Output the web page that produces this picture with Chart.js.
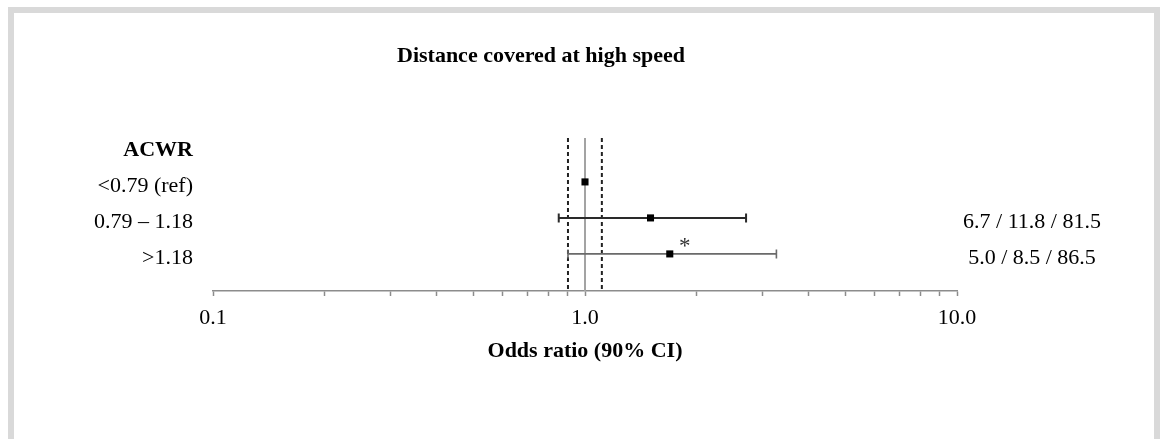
<!DOCTYPE html>
<html>
<head>
<meta charset="utf-8">
<title>Distance covered at high speed</title>
<script src="https://cdn.jsdelivr.net/npm/chart.js@4.4.1/dist/chart.umd.min.js"></script>
<style>
  html, body { margin: 0; padding: 0; background: #fff; overflow: hidden; }
  #frame {
    position: absolute; left: 8px; top: 7px;
    width: 1140px; height: 432px;
    border: 6px solid #d9d9d9; border-bottom: none;
  }
  #plot { position: absolute; left: 0; top: 0; }
</style>
</head>
<body>
<div id="frame"></div>
<canvas id="plot" width="1160" height="439"></canvas>
<script>
// ACWR bands and their odds ratios (90% CI) for high-speed distance
const chartTitle = 'Distance covered at high speed';
const headerLabel = 'ACWR';
const rowLabels = ['<0.79 (ref)', '0.79 – 1.18', '>1.18'];
const oddsRatios = [1.0, 1.50, 1.69];
const ciLower = [null, 0.85, 0.90];
const ciUpper = [null, 2.71, 3.27];
// chances harmful / trivial / beneficial (%)
const chances = ['', '6.7 / 11.8 / 81.5', '5.0 / 8.5 / 86.5'];
const significance = ['', '', '*'];

// reference lines: no effect and smallest worthwhile change
const nullValue = 1.0;
const trivialBounds = [0.9, 1.11];

// log axis
const axisTitle = 'Odds ratio (90% CI)';
const tickValues = [0.1, 0.2, 0.3, 0.4, 0.5, 0.6, 0.7, 0.8, 0.9,
                    1, 2, 3, 4, 5, 6, 7, 8, 9, 10];
const labeledTicks = [0.1, 1, 10];
const labeledTickText = ['0.1', '1.0', '10.0'];

// row positions on the hidden vertical scale (header row = 0)
const Y_TOP = -0.22, Y_BOTTOM = 4.03;
const rowIndex = rowLabels.map((_, i) => i + 1);

const SERIF = '"Liberation Serif", "Times New Roman", Times, serif';
const TEXT = '#000';

const forestPlugin = {
  id: 'forest',
  beforeDatasetDraw(chart, args) {
    if (args.index !== 0) return;
    const { ctx, scales: { x, y } } = chart;
    const styles = chart.options.plugins.forest.bars;
    ctx.save();
    ciLower.forEach((lo, i) => {
      if (lo == null) return;
      const s = styles[i] || styles[styles.length - 1];
      const yp = y.getPixelForValue(rowIndex[i]);
      const x0 = x.getPixelForValue(lo);
      const x1 = x.getPixelForValue(ciUpper[i]);
      ctx.strokeStyle = s.color;
      ctx.lineWidth = s.width;
      ctx.beginPath();
      ctx.moveTo(x0, yp); ctx.lineTo(x1, yp);
      ctx.moveTo(x0, yp - 4.5); ctx.lineTo(x0, yp + 4.5);
      ctx.moveTo(x1, yp - 4.5); ctx.lineTo(x1, yp + 4.5);
      ctx.stroke();
    });
    ctx.restore();
  },
  afterDraw(chart) {
    const { ctx, scales: { x, y } } = chart;
    ctx.save();
    ctx.fillStyle = TEXT;
    ctx.textBaseline = 'alphabetic';

    // chart heading
    ctx.font = 'bold 22px ' + SERIF;
    ctx.textAlign = 'center';
    ctx.fillText(chartTitle, 541, 62);

    // left column: band names
    ctx.textAlign = 'right';
    ctx.fillText(headerLabel, 193, y.getPixelForValue(0) + 10.5);
    ctx.font = '22px ' + SERIF;
    rowLabels.forEach((t, i) => {
      ctx.fillText(t, 193, y.getPixelForValue(rowIndex[i]) + 10.5);
    });

    // right column: chances
    ctx.textAlign = 'center';
    chances.forEach((t, i) => {
      if (t) ctx.fillText(t, 1032, y.getPixelForValue(rowIndex[i]) + 10.5);
    });

    // significance flags beside the estimate
    ctx.fillStyle = '#333';
    ctx.font = '23px ' + SERIF;
    significance.forEach((t, i) => {
      if (!t) return;
      ctx.fillText(t, x.getPixelForValue(oddsRatios[i]) + 15,
                   y.getPixelForValue(rowIndex[i]) - 1);
    });
    ctx.restore();
  }
};

const vline = (v, color, width, dash) => ({
  type: 'scatter',
  data: [{ x: v, y: Y_TOP }, { x: v, y: Y_BOTTOM }],
  showLine: true,
  borderColor: color,
  borderWidth: width,
  borderDash: dash,
  pointRadius: 0,
  order: 1
});

new Chart(document.getElementById('plot'), {
  type: 'scatter',
  data: {
    datasets: [
      {
        data: oddsRatios.map((v, i) => ({ x: v, y: rowIndex[i] })),
        pointStyle: 'rect',
        pointRadius: 5,
        backgroundColor: '#000',
        borderColor: '#000',
        borderWidth: 0,
        order: 0
      },
      vline(nullValue, '#a3a3a3', 2, []),
      vline(trivialBounds[0], '#222', 2, [4, 3]),
      vline(trivialBounds[1], '#222', 2, [4, 3])
    ]
  },
  options: {
    responsive: false,
    animation: false,
    events: [],
    layout: { padding: { left: 213, right: 203, top: 138, bottom: 76.6 } },
    plugins: {
      legend: { display: false },
      tooltip: { enabled: false },
      forest: {
        bars: [
          null,
          { color: '#2a2a2a', width: 2 },
          { color: '#6a6a6a', width: 1.6 }
        ]
      }
    },
    scales: {
      x: {
        type: 'logarithmic',
        min: 0.1,
        max: 10,
        afterBuildTicks: (scale) => { scale.ticks = tickValues.map(v => ({ value: v })); },
        grid: {
          display: true, drawOnChartArea: false, drawTicks: true,
          tickLength: 5, tickColor: '#8c8c8c', tickWidth: 1.5
        },
        border: { display: true, color: '#8c8c8c', width: 1.5 },
        ticks: {
          autoSkip: false, maxRotation: 0, padding: 9,
          color: TEXT,
          font: { family: SERIF, size: 22 },
          callback: (v) => {
            const k = labeledTicks.findIndex(t => Math.abs(t - v) < 1e-9);
            return k >= 0 ? labeledTickText[k] : '';
          }
        },
        title: {
          display: true, text: axisTitle, color: TEXT, padding: 0,
          font: { family: SERIF, size: 22, weight: 'bold', lineHeight: 1 }
        }
      },
      y: {
        type: 'linear', display: false, reverse: true,
        min: Y_TOP, max: Y_BOTTOM
      }
    }
  },
  plugins: [forestPlugin]
});
</script>
</body>
</html>
